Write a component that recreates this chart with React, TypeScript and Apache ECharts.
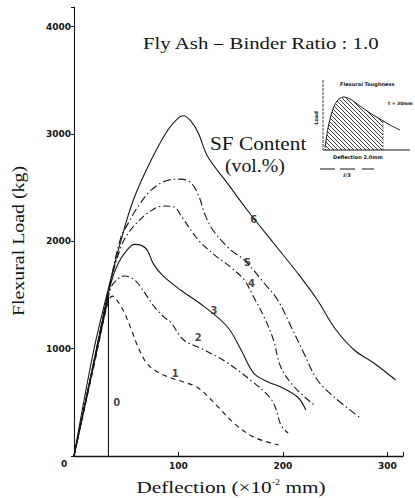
import React, { useEffect, useRef } from "react";
import * as echarts from "echarts";

// Deflection (x10^-2 mm), Flexural load (kg) pairs for each SF content curve
const curve0: [number, number][] = [[0, 0], [33, 1480], [33, 0]];
const curve1: [number, number][] = [[0, 0], [20, 880], [33, 1450], [37, 1490], [42, 1440], [48, 1340], [55, 1175], [62, 1000], [70, 860], [80, 783], [93, 727], [105, 690], [119, 634], [138, 457], [153, 307], [172, 177], [196, 102]];
const curve2: [number, number][] = [[0, 0], [20, 900], [35, 1560], [42, 1650], [48, 1677], [55, 1660], [61, 1612], [77, 1390], [86, 1296], [93, 1240], [105, 1081], [120, 1010], [134, 941], [147, 867], [169, 708], [188, 540], [194, 420], [198, 290], [205, 214]];
const curve3: [number, number][] = [[0, 0], [20, 920], [35, 1600], [42, 1790], [50, 1910], [58, 1972], [64, 1965], [70, 1920], [76, 1790], [85, 1680], [102, 1547], [125, 1390], [147, 1202], [160, 988], [172, 773], [186, 690], [198, 643], [214, 550], [222, 429]];
const curve4: [number, number][] = [[0, 0], [20, 930], [35, 1620], [45, 1950], [52, 2078], [60, 2170], [70, 2260], [85, 2330], [96, 2320], [103, 2230], [119, 2013], [135, 1870], [150, 1760], [163, 1640], [172, 1482], [182, 1296], [191, 1081], [198, 829], [211, 643], [230, 475]];
const curve5: [number, number][] = [[0, 0], [20, 930], [35, 1630], [45, 2040], [52, 2170], [61, 2320], [74, 2480], [90, 2570], [102, 2580], [112, 2545], [120, 2410], [125, 2260], [133, 2106], [150, 1920], [163, 1827], [182, 1612], [195, 1454], [208, 1202], [220, 960], [233, 708], [249, 550], [273, 363]];
const curve6: [number, number][] = [[0, 0], [19, 990], [35, 1640], [45, 2010], [57, 2390], [74, 2760], [90, 3040], [100, 3150], [105, 3170], [112, 3120], [119, 3010], [128, 2790], [147, 2540], [166, 2290], [191, 1985], [214, 1705], [233, 1454], [249, 1200], [268, 990], [287, 867], [308, 708]];

// curve tags and where they are written (deflection, load)
const curveTags = ["0", "1", "2", "3", "4", "5", "6"];
const tagDeflection = [41, 97, 119, 134, 170, 166, 172];
const tagLoad = [494, 773, 1100, 1360, 1610, 1800, 2200];

const xTicks = [100, 200, 300];
const yTicks = [1000, 2000, 3000, 4000];

const INK = "#141414";

export default function App() {
  const ref = useRef<HTMLDivElement>(null);
  useEffect(() => {
    if (!ref.current) return;
    const chart = echarts.init(ref.current, undefined, { renderer: "svg" });

    // hatch pattern for the inset
    const cv = document.createElement("canvas");
    cv.width = 4;
    cv.height = 4;
    const ctx = cv.getContext("2d");
    if (ctx) {
      ctx.strokeStyle = "#222";
      ctx.lineWidth = 0.9;
      ctx.beginPath();
      ctx.moveTo(0, 0);
      ctx.lineTo(4, 4);
      ctx.stroke();
    }

    const lineSeries = (data: [number, number][], type: any, smooth: number | boolean = 0.35) => ({
      type: "line",
      data,
      smooth,
      symbol: "none",
      lineStyle: { color: INK, width: 1.1, type },
      silent: true,
    });

    const serif = "'Liberation Serif', 'DejaVu Serif', serif";

    chart.setOption({
      animation: false,
      backgroundColor: "#ffffff",
      grid: { left: 74, top: 7, right: 12, bottom: 42, containLabel: false },
      xAxis: {
        type: "value",
        min: 0,
        max: 315,
        interval: 100,
        splitLine: { show: false },
        axisLine: { lineStyle: { color: INK, width: 1.4 } },
        axisTick: { inside: true, length: 4, lineStyle: { color: INK } },
        axisLabel: {
          color: INK,
          fontSize: 9,
          fontFamily: "'DejaVu Sans', sans-serif",
          fontWeight: "bold",
          margin: 5,
          formatter: (v: number) => (xTicks.includes(v) ? String(v) : ""),
        },
      },
      yAxis: {
        type: "value",
        min: 0,
        max: 4184,
        interval: 1000,
        splitLine: { show: false },
        axisLine: { lineStyle: { color: INK, width: 1.1 } },
        axisTick: { inside: false, length: 3, lineStyle: { color: INK } },
        axisLabel: {
          color: INK,
          fontSize: 9,
          fontFamily: "'DejaVu Sans', sans-serif",
          fontWeight: "bold",
          margin: 3,
          formatter: (v: number) => (yTicks.includes(v) ? String(v) : ""),
        },
      },
      series: [
        lineSeries(curve0, "solid", false),
        lineSeries(curve1, [5, 4]),
        lineSeries(curve2, [7, 3, 1.5, 3]),
        lineSeries(curve3, "solid"),
        lineSeries(curve4, [7, 3, 1.5, 3]),
        lineSeries(curve5, [8, 3, 1.5, 3]),
        lineSeries(curve6, "solid"),
        {
          type: "scatter",
          symbolSize: 0,
          silent: true,
          data: curveTags.map((t, i) => ({ value: [tagDeflection[i], tagLoad[i]], name: t })),
          label: {
            show: true,
            position: "inside",
            formatter: (p: any) => p.name,
            color: INK,
            fontSize: 10,
            fontFamily: "'DejaVu Sans', sans-serif",
            fontWeight: "bold",
          },
        },
      ],
      graphic: [
        {
          type: "text",
          left: 61,
          top: 459,
          style: { text: "0", fill: INK, fontSize: 9, fontWeight: "bold", fontFamily: "'DejaVu Sans', sans-serif" },
        },
        {
          type: "text",
          x: 143,
          y: 43,
          scaleX: 1.3,
          style: { text: "Fly Ash－Binder Ratio : 1.0", fill: INK, fontSize: 16, fontFamily: serif, verticalAlign: "middle" },
        },
        {
          type: "text",
          x: 210,
          y: 143,
          scaleX: 1.12,
          style: { text: "SF Content", fill: INK, fontSize: 19, fontFamily: serif, verticalAlign: "middle" },
        },
        {
          type: "text",
          x: 225,
          y: 166,
          scaleX: 1.1,
          style: { text: "(vol.%)", fill: INK, fontSize: 18, fontFamily: serif, verticalAlign: "middle" },
        },
        {
          type: "text",
          x: 18,
          y: 241,
          rotation: Math.PI / 2,
          scaleX: 1.17,
          style: { text: "Flexural Load (kg)", fill: INK, fontSize: 17, fontFamily: serif, align: "center", verticalAlign: "middle" },
        },
        {
          type: "text",
          x: 231,
          y: 487,
          scaleX: 1.25,
          style: {
            text: "Deflection (×10{s|-2} mm)",
            fill: INK,
            fontSize: 17,
            fontFamily: serif,
            align: "center",
            verticalAlign: "middle",
            rich: { s: { fontSize: 8, fontFamily: serif, fill: INK, verticalAlign: "top", padding: [0, 0, 8, 0] } },
          },
        },
        // inset: flexural toughness sketch
        {
          type: "group",
          silent: true,
          children: [
            {
              type: "polygon",
              shape: {
                points: [[325, 150], [325, 148], [328, 128], [332, 112], [337, 101], [343, 97], [350, 99], [360, 106], [370, 113], [380, 119], [383, 121], [383, 150]],
              },
              style: { fill: { image: cv, repeat: "repeat" } as any, stroke: "none" },
            },
            { type: "line", shape: { x1: 383, y1: 121, x2: 383, y2: 150 }, style: { stroke: INK, lineWidth: 0.6, lineDash: [2, 1] } },
            {
              type: "polyline",
              shape: { points: [[325, 148], [328, 128], [332, 112], [337, 101], [343, 97], [350, 99], [360, 106], [370, 113], [380, 119], [390, 125], [400, 130]], smooth: 0.3 },
              style: { stroke: INK, lineWidth: 1, fill: "none" },
            },
            { type: "line", shape: { x1: 323, y1: 80, x2: 323, y2: 150 }, style: { stroke: INK, lineWidth: 0.8, lineDash: [3, 1] } },
            { type: "line", shape: { x1: 323, y1: 150, x2: 410, y2: 150 }, style: { stroke: INK, lineWidth: 1 } },
            { type: "text", x: 340, y: 84, style: { text: "Flexural Toughness", fill: INK, fontSize: 5, fontWeight: "bold", fontFamily: "'DejaVu Sans', sans-serif", verticalAlign: "middle" } },
            { type: "text", x: 388, y: 103, style: { text: "t = 30mm", fill: INK, fontSize: 4.5, fontWeight: "bold", fontFamily: "'DejaVu Sans', sans-serif", verticalAlign: "middle" } },
            { type: "text", x: 316, y: 118, rotation: Math.PI / 2, style: { text: "Load", fill: INK, fontSize: 5, fontWeight: "bold", fontFamily: "'DejaVu Sans', sans-serif", align: "center", verticalAlign: "middle" } },
            { type: "text", x: 333, y: 157, style: { text: "Deflection 2.0mm", fill: INK, fontSize: 5, fontWeight: "bold", fontFamily: "'DejaVu Sans', sans-serif", verticalAlign: "middle" } },
            { type: "line", shape: { x1: 320, y1: 169, x2: 335, y2: 169 }, style: { stroke: INK, lineWidth: 1 } },
            { type: "line", shape: { x1: 340, y1: 169, x2: 355, y2: 169 }, style: { stroke: INK, lineWidth: 1 } },
            { type: "line", shape: { x1: 362, y1: 169, x2: 374, y2: 169 }, style: { stroke: INK, lineWidth: 1 } },
            { type: "text", x: 347, y: 175, style: { text: "ℓ/3", fill: INK, fontSize: 5, fontWeight: "bold", fontFamily: "'DejaVu Sans', sans-serif", align: "center", verticalAlign: "middle" } },
          ],
        },
      ],
    });
    return () => chart.dispose();
  }, []);
  return <div ref={ref} style={{ position: "fixed", left: 0, top: 0, width: 415, height: 498 }} />;
}
